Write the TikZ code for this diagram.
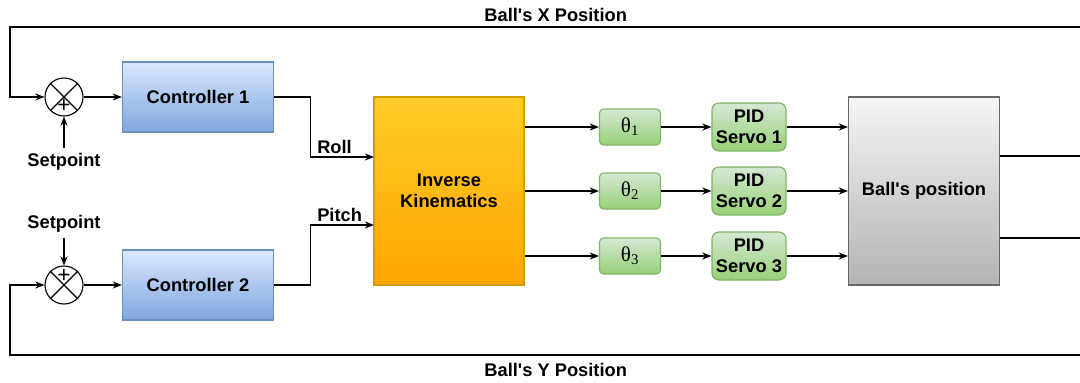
\documentclass[tikz,border=0pt]{standalone}
\usepackage{fontspec}
\setmainfont{Liberation Sans}
\newfontfamily\grkfont{Liberation Serif}
\usepackage{xcolor}
\usetikzlibrary{positioning,arrows.meta,calc}
\definecolor{ctrlTop}{HTML}{DAE8FC}
\definecolor{ctrlBot}{HTML}{7EA6E0}
\definecolor{ctrlLine}{HTML}{6C8EBF}
\definecolor{ikTop}{HTML}{FFCD28}
\definecolor{ikBot}{HTML}{FFA500}
\definecolor{ikLine}{HTML}{D79B00}
\definecolor{grTop}{HTML}{D5E8D4}
\definecolor{grBot}{HTML}{97D077}
\definecolor{grLine}{HTML}{82B366}
\definecolor{bpTop}{HTML}{F5F5F5}
\definecolor{bpBot}{HTML}{B3B3B3}
\definecolor{bpLine}{HTML}{666666}
\newcommand{\apos}{\textquotesingle}
\newcommand{\thsub}[1]{{\grkfont\mdseries θ\textsubscript{#1}}}
\tikzset{
  ctrl/.style={draw=ctrlLine,top color=ctrlTop,bottom color=ctrlBot,minimum width=3.775cm,minimum height=1.75cm,align=center},
  ikbox/.style={draw=ikLine,top color=ikTop,bottom color=ikBot,minimum width=3.75cm,minimum height=4.7cm,align=center},
  angle/.style={draw=grLine,top color=grTop,bottom color=grBot,rounded corners=3pt,minimum width=1.525cm,minimum height=0.9cm,font=\fontsize{15}{15}\selectfont},
  servo/.style={draw=grLine,top color=grTop,bottom color=grBot,rounded corners=5pt,minimum width=1.85cm,minimum height=1.2cm,align=center,inner sep=1pt},
  plant/.style={draw=bpLine,top color=bpTop,bottom color=bpBot,minimum width=3.775cm,minimum height=4.7cm,align=center},
  summ/.style={draw,circle,fill=white,minimum size=0.95cm,inner sep=0pt},
  plus/.style={font=\normalfont\fontsize{16}{16}\selectfont,inner sep=0pt},
  lbl/.style={inner sep=2pt},
}
\begin{document}
\begin{tikzpicture}[x=0.025cm,y=-0.025cm,>={Stealth[length=6.5pt,width=5pt]},line width=0.8pt,
    every node/.style={font=\bfseries\fontsize{13}{15}\selectfont}]
  \useasboundingbox (0,0) rectangle (1080,382);
  % summing junctions and controllers
  \node[summ] (sum1) at (64,97) {};
  \draw (sum1.45) -- (sum1.225) (sum1.135) -- (sum1.315);
  \node[plus] (plus1) at ([yshift=-0.23cm]sum1.center) {+};
  \node[summ] (sum2) at (64,285) {};
  \draw (sum2.45) -- (sum2.225) (sum2.135) -- (sum2.315);
  \node[plus] (plus2) at ([yshift=0.23cm]sum2.center) {+};
  \node (sp1) at (64,162) {Setpoint};
  \node (sp2) at (64,224) {Setpoint};
  \node[ctrl] (ctrl1) at (198,97) {Controller 1};
  \node[ctrl] (ctrl2) at (198,285) {Controller 2};
  \node[ikbox] (ik) at (449,191) {Inverse\\Kinematics};
  % joint angles and servos
  \node[angle] (th1) at (630,127) {\thsub{1}};
  \node[angle] (th2) at (630,191) {\thsub{2}};
  \node[angle] (th3) at (630,256) {\thsub{3}};
  \node[servo] (pid1) at (749,127) {PID\\Servo 1};
  \node[servo] (pid2) at (749,191) {PID\\Servo 2};
  \node[servo] (pid3) at (749,256) {PID\\Servo 3};
  \node[plant] (ball) at (924,191) {Ball\apos s position};
  \coordinate (roll) at (374,157);
  \coordinate (pitch) at (374,225);
  \coordinate (xout) at (1080,156);
  \coordinate (yout) at (1080,238);
  \coordinate (xtop) at (1080,27);
  \coordinate (xleft) at (10,27);
  \coordinate (ybot) at (1080,355);
  \coordinate (yleft) at (10,355);
  % connectors
  \draw[->] (sp1) -- (sum1);
  \draw[->] (sp2) -- (sum2);
  \draw[->] (sum1) -- (ctrl1);
  \draw[->] (sum2) -- (ctrl2);
  \draw[->] (ctrl1.east) -- ++(36,0) |- node[lbl,pos=0.53,anchor=south west] {Roll} (roll);
  \draw[->] (ctrl2.east) -- ++(36,0) |- node[lbl,pos=0.53,anchor=south west] {Pitch} (pitch);
  \foreach \k in {1,2,3} {
    \draw[->] (ik.east|-th\k) -- (th\k);
    \draw[->] (th\k) -- (pid\k);
    \draw[->] (pid\k) -- (ball.west|-pid\k);
  }
  \draw (ball.east|-xout) -- (xout);
  \draw (ball.east|-yout) -- (yout);
  \draw[->] (xtop) -- node[above,pos=0.49] {Ball\apos s X Position} (xleft) |- (sum1);
  \draw[->] (ybot) -- node[below=2pt,pos=0.49] {Ball\apos s Y Position} (yleft) |- (sum2);
\end{tikzpicture}
\end{document}
